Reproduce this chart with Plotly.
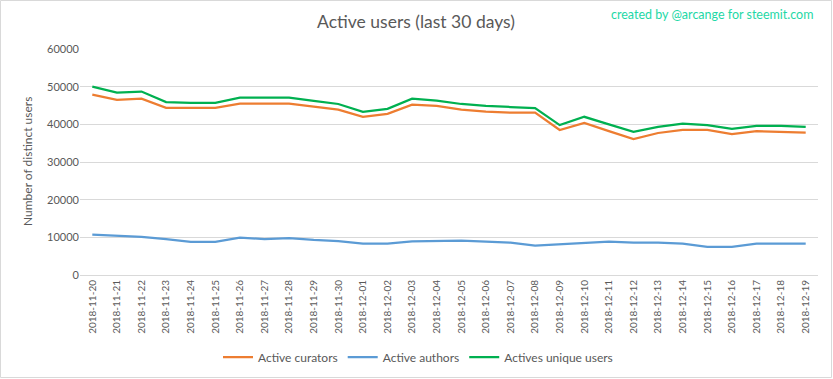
import plotly.graph_objects as go

dates = [
    "2018-11-20", "2018-11-21", "2018-11-22", "2018-11-23", "2018-11-24", "2018-11-25",
    "2018-11-26", "2018-11-27", "2018-11-28", "2018-11-29", "2018-11-30", "2018-12-01",
    "2018-12-02", "2018-12-03", "2018-12-04", "2018-12-05", "2018-12-06", "2018-12-07",
    "2018-12-08", "2018-12-09", "2018-12-10", "2018-12-11", "2018-12-12", "2018-12-13",
    "2018-12-14", "2018-12-15", "2018-12-16", "2018-12-17", "2018-12-18", "2018-12-19",
]

active_curators = [
    47900, 46500, 46800, 44400, 44400, 44400, 45500, 45500, 45500, 44700,
    43900, 42000, 42800, 45200, 44900, 43900, 43400, 43100, 43100, 38500,
    40400, 38200, 36100, 37700, 38500, 38500, 37400, 38200, 38000, 37800,
]

active_authors = [
    10700, 10350, 10100, 9500, 8800, 8800, 9900, 9550, 9800, 9300,
    9000, 8300, 8300, 8950, 9100, 9100, 8850, 8600, 7800, 8150,
    8600, 8850, 8600, 8600, 8300, 7500, 7500, 8300, 8300, 8300,
]

unique_users = [
    50000, 48400, 48700, 45900, 45700, 45700, 47100, 47100, 47100, 46200,
    45400, 43300, 44100, 46800, 46300, 45400, 44900, 44600, 44300, 39800,
    42000, 40000, 38000, 39300, 40200, 39800, 38800, 39600, 39600, 39300,
]

series = [
    ("Active curators", active_curators, "#ED7D31"),
    ("Active authors", active_authors, "#5B9BD5"),
    ("Actives unique users", unique_users, "#00B050"),
]

W, H = 833, 379
ML, MR, MT, MB = 80, 15, 49, 104
PW, PH = W - ML - MR, H - MT - MB
FONT = "Lato, 'Open Sans', sans-serif"
GREY = "#595959"

fig = go.Figure()
for name, vals, color in series:
    fig.add_trace(go.Scatter(
        x=dates, y=vals, name=name, mode="lines",
        line=dict(color=color, width=2.25),
    ))

fig.update_layout(
    width=W, height=H,
    margin=dict(l=ML, r=MR, t=MT, b=MB, autoexpand=False),
    paper_bgcolor="white", plot_bgcolor="white",
    font=dict(family=FONT, color=GREY, size=11),
    title=dict(
        text="Active users (last 30 days)",
        x=416 / W, xanchor="center", xref="container",
        y=1 - 22 / H, yanchor="middle", yref="container",
        font=dict(size=17.5, color=GREY, family=FONT),
    ),
    showlegend=True,
    legend=dict(
        orientation="h", xref="container", yref="container",
        x=418 / W, xanchor="center",
        y=1 - 357 / H, yanchor="middle",
        font=dict(size=12, color=GREY, family=FONT),
        itemwidth=30, bgcolor="rgba(0,0,0,0)",
    ),
    xaxis=dict(
        type="category", range=[-0.5, len(dates) - 0.5], automargin=False,
        showgrid=False, showline=True, linecolor="#d9d9d9", linewidth=1,
        tickangle=-90, ticks="", tickfont=dict(size=10, color=GREY, family=FONT),
        zeroline=False,
    ),
    yaxis=dict(
        range=[0, 60000], dtick=10000, tickformat="d", automargin=False,
        showgrid=True, gridcolor="#d9d9d9", gridwidth=1,
        showline=False, zeroline=False, ticks="",
        tickfont=dict(size=11, color=GREY, family=FONT),
    ),
    annotations=[
        dict(
            text="created by @arcange for steemit.com",
            xref="paper", yref="paper",
            x=(815 - ML) / PW, xanchor="right",
            y=(MT + PH - 14) / PH, yanchor="middle",
            showarrow=False, font=dict(size=12.5, color="#1ED8A6", family=FONT),
        ),
        dict(
            text="Number of distinct users",
            xref="paper", yref="paper",
            x=(27 - ML) / PW, xanchor="center",
            y=0.5, yanchor="middle", textangle=-90,
            showarrow=False, font=dict(size=12, color=GREY, family=FONT),
        ),
    ],
    shapes=[
        dict(
            type="rect", xref="paper", yref="paper",
            x0=(0.5 - ML) / PW, x1=(W - 1.5 - ML) / PW,
            y0=(MT + PH - (H - 1.5)) / PH, y1=(MT + PH - 0.5) / PH,
            line=dict(color="#d9d9d9", width=1), fillcolor="rgba(0,0,0,0)",
            layer="below",
        )
    ],
)

fig.write_html(
    "out.html",
    config={"displayModeBar": False},
    post_script="document.body.style.margin='0';document.body.style.padding='0';",
)
